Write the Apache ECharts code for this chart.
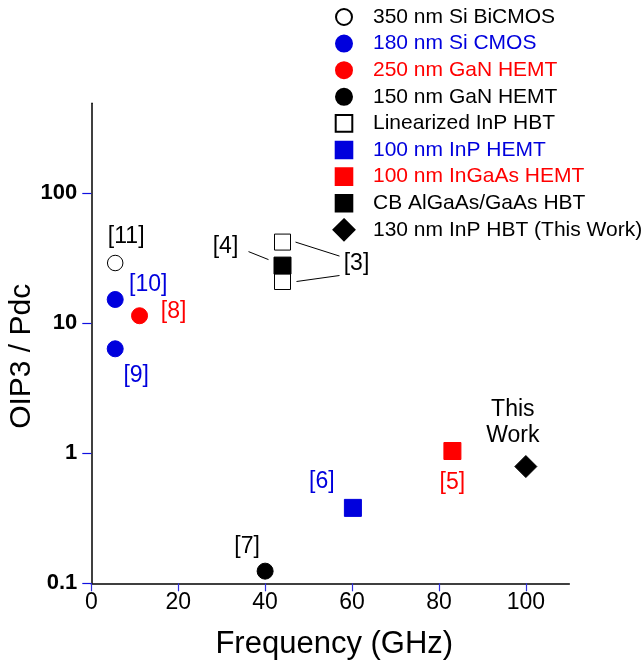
<!DOCTYPE html>
<html>
<head>
<meta charset="utf-8">
<script src="https://cdn.jsdelivr.net/npm/echarts@6/dist/echarts.min.js"></script>
<style>
  html, body { margin: 0; padding: 0; background: #fff; }
  #chart { width: 642px; height: 668px; }
</style>
</head>
<body>
<div id="chart"></div>
<script>
  // tick values
  const xTicks = [0, 20, 40, 60, 80, 100];
  const yTicks = [0.1, 1, 10, 100];

  // [frequency GHz, OIP3/Pdc]
  const siBicmos350 = [[5.5, 29]];
  const siCmos180 = [[5.5, 15.2], [5.5, 6.35]];
  const ganHemt250 = [[11.1, 11.4]];
  const ganHemt150 = [[40, 0.124]];
  const linInpHbt = [[44, 42], [44, 20.9]];
  const inpHemt100 = [[60.2, 0.38]];
  const ingaasHemt100 = [[83.1, 1.04]];
  const cbAlgaasHbt = [[44, 27.7]];
  const thisWork = [[100, 0.79]];

  // reference tags for each point (same order as data)
  const siBicmos350Refs = ['[11]'];
  const siCmos180Refs = ['[10]', '[9]'];
  const ganHemt250Refs = ['[8]'];
  const ganHemt150Refs = ['[7]'];
  const linInpHbtRefs = ['[3]', ''];
  const inpHemt100Refs = ['[6]'];
  const ingaasHemt100Refs = ['[5]'];
  const cbAlgaasHbtRefs = ['[4]'];
  const thisWorkRefs = ['This\nWork'];

  const BLUE = '#0000dd';
  const RED = '#ff0000';
  const BLACK = '#000000';

  const circ = 'path://M0,0M35,22M3,11A8,8,0,1,0,19,11A8,8,0,1,0,3,11Z';
  const sq = 'path://M0,0M35,22M2.7,2.7L19.3,2.7L19.3,19.3L2.7,19.3Z';
  const dia = 'path://M0,0M35,22M11,0.5L21.5,11L11,21.5L0.5,11Z';

  // series definitions (style + label offsets in px)
  const defs = [
    { name: '350 nm Si BiCMOS', data: siBicmos350, refs: siBicmos350Refs, symbol: 'circle', size: 15.5, fill: '#fff', border: BLACK, text: BLACK, icon: circ, offs: [[11, -26]] },
    { name: '180 nm Si CMOS', data: siCmos180, refs: siCmos180Refs, symbol: 'circle', size: 16, fill: BLUE, border: BLUE, text: BLUE, icon: circ, offs: [[33, -15], [21, 27]] },
    { name: '250 nm GaN HEMT', data: ganHemt250, refs: ganHemt250Refs, symbol: 'circle', size: 16, fill: RED, border: RED, text: RED, icon: circ, offs: [[34, -4]] },
    { name: '150 nm GaN HEMT', data: ganHemt150, refs: ganHemt150Refs, symbol: 'circle', size: 16, fill: BLACK, border: BLACK, text: BLACK, icon: circ, offs: [[-18, -24]] },
    { name: 'Linearized InP HBT', data: linInpHbt, refs: linInpHbtRefs, symbol: 'rect', size: 16, fill: '#fff', border: BLACK, text: BLACK, icon: sq, offs: [[74, 22], [0, 0]] },
    { name: '100 nm InP HEMT', data: inpHemt100, refs: inpHemt100Refs, symbol: 'rect', size: 17, fill: BLUE, border: BLUE, text: BLUE, icon: sq, offs: [[-31, -26]] },
    { name: '100 nm InGaAs HEMT', data: ingaasHemt100, refs: ingaasHemt100Refs, symbol: 'rect', size: 17, fill: RED, border: RED, text: RED, icon: sq, offs: [[0, 32]] },
    { name: 'CB AlGaAs/GaAs HBT', data: cbAlgaasHbt, refs: cbAlgaasHbtRefs, symbol: 'rect', size: 17, fill: BLACK, border: BLACK, text: BLACK, icon: sq, offs: [[-57, -19]] },
    { name: '130 nm InP HBT (This Work)', data: thisWork, refs: thisWorkRefs, symbol: 'diamond', size: 22, fill: BLACK, border: BLACK, text: BLACK, icon: dia, offs: [[-13, -44]] }
  ];

  const FONT = '"Liberation Sans", Arial, sans-serif';

  const chart = echarts.init(document.getElementById('chart'));

  const series = defs.map(d => ({
    name: d.name,
    type: 'scatter',
    symbol: d.symbol,
    symbolSize: d.size,
    itemStyle: { color: d.fill, borderColor: d.border, borderWidth: 1, opacity: 1 },
    data: d.data.map((p, i) => ({
      value: p,
      label: {
        show: d.refs[i] !== '',
        formatter: d.refs[i],
        position: 'inside',
        offset: d.offs[i],
        align: 'center',
        verticalAlign: 'middle',
        color: d.text,
        fontSize: 23,
        lineHeight: 26,
        fontFamily: FONT
      }
    }))
  }));

  const option = {
    animation: false,
    backgroundColor: '#fff',
    textStyle: { fontFamily: FONT },
    grid: { left: 91.3, right: 72.7, top: 103.3, bottom: 84.7, containLabel: false, outerBoundsMode: 'none' },
    legend: {
      orient: 'vertical',
      left: 332,
      top: 5,
      padding: 0,
      itemWidth: 35,
      itemHeight: 22,
      itemGap: 2.6,
      selectedMode: false,
      textStyle: { fontSize: 21, fontFamily: FONT, lineHeight: 22, padding: 0 },
      data: defs.map(d => ({ name: d.name, icon: d.icon, textStyle: { color: d.text } }))
    },
    xAxis: {
      type: 'value',
      min: 0,
      max: 110,
      interval: 20,
      name: 'Frequency (GHz)',
      nameLocation: 'middle',
      nameGap: 46,
      nameMoveOverlap: false,
      nameTextStyle: { fontSize: 31, color: '#000', fontFamily: FONT, padding: [0, 0, 0, 8] },
      axisLine: { lineStyle: { color: '#000', width: 1.5 } },
      axisTick: { customValues: xTicks, length: 8, lineStyle: { color: '#3030e0', width: 1.2 } },
      axisLabel: { customValues: xTicks, fontSize: 23, color: '#000', margin: 8, fontFamily: FONT },
      splitLine: { show: false }
    },
    yAxis: {
      type: 'log',
      logBase: 10,
      min: 0.1,
      max: 490,
      name: 'OIP3 / Pdc',
      nameLocation: 'middle',
      nameGap: 55,
      nameMoveOverlap: false,
      nameTextStyle: { fontSize: 30, color: '#000', fontFamily: FONT, padding: [0, 26, 0, 0] },
      axisLine: { lineStyle: { color: '#000', width: 1.5 } },
      axisTick: { customValues: yTicks, length: 9, lineStyle: { color: '#1010e0', width: 1.2 } },
      axisLabel: {
        customValues: yTicks,
        fontSize: 22,
        fontWeight: 'bold',
        color: '#000',
        margin: 14,
        fontFamily: FONT,
        formatter: v => String(v)
      },
      splitLine: { show: false }
    },
    series: series
  };

  chart.setOption(option);

  // leader lines from reference tags to points (px offsets relative to the point)
  const leaders = [
    { s: 7, i: 0, from: [-34, -14], to: [-14, -6] },
    { s: 4, i: 0, from: [13, 0], to: [57, 14] },
    { s: 4, i: 1, from: [14, 0], to: [57, -6] }
  ];
  const lines = leaders.map(l => {
    const p = chart.convertToPixel({ gridIndex: 0 }, defs[l.s].data[l.i]);
    return {
      type: 'line',
      shape: { x1: p[0] + l.from[0], y1: p[1] + l.from[1], x2: p[0] + l.to[0], y2: p[1] + l.to[1] },
      style: { stroke: '#000', lineWidth: 1 }
    };
  });
  chart.setOption({ graphic: lines });
</script>
</body>
</html>
